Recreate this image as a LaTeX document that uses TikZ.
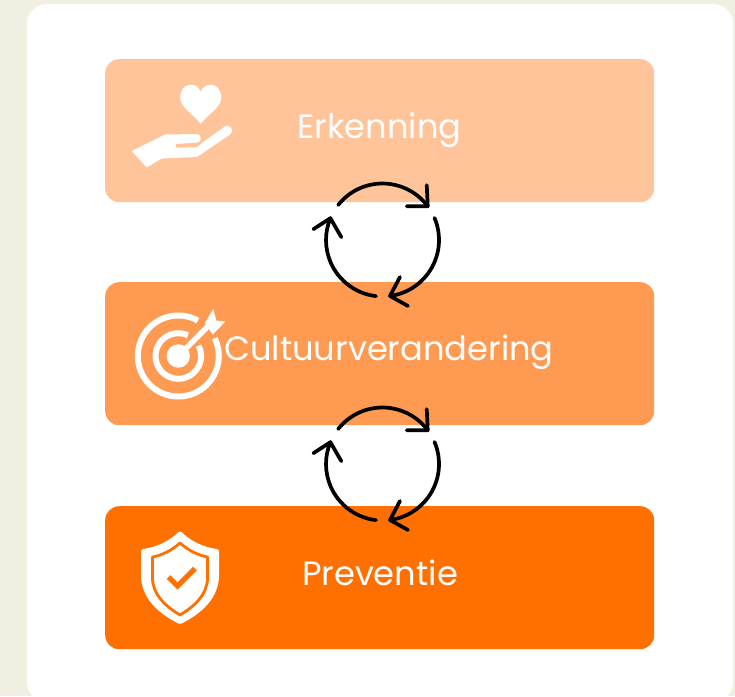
\documentclass[tikz,border=0pt]{standalone}
\usepackage{fontspec}
\setmainfont{Poppins}
\definecolor{pagebg}{HTML}{F1EFE2}
\definecolor{lightor}{HTML}{FFC499}
\definecolor{midor}{HTML}{FF9A52}
\definecolor{darkor}{HTML}{FF7000}
\tikzset{
  x=1pt,y=1pt,
  band/.style={rounded corners=14pt,minimum width=549pt,minimum height=143pt,inner sep=0pt,anchor=north west},
  bandtext/.style={text=white,font=\fontsize{33.7}{36}\selectfont,anchor=base,inner sep=0pt},
  loopline/.style={draw=black,line width=3.7pt,line cap=round,line join=round},
  pics/cyclearrows/.style={code={
    \coordinate (c) at (0,0);
    \draw[loopline] (c) ++(141.8:56.5pt) arc[start angle=141.8,end angle=36.8,radius=56.5pt] coordinate (t1);
    \draw[loopline] ([shift={(-1,21)}]t1) -- (t1) -- ([shift={(-21,0)}]t1);
    \draw[loopline] (c) ++(23:56.5pt) arc[start angle=23,end angle=-82.4,radius=56.5pt] coordinate (t2);
    \draw[loopline] ([shift={(10,19)}]t2) -- (t2) -- ([shift={(18,-10)}]t2);
    \draw[loopline] (c) ++(263.4:56.5pt) arc[start angle=263.4,end angle=157.3,radius=56.5pt] coordinate (t3);
    \draw[loopline] ([shift={(-17,-11)}]t3) -- (t3) -- ([shift={(11,-19)}]t3);
  }}
}
\begin{document}
\begin{tikzpicture}
\useasboundingbox (0,0) rectangle (735,-696);
\fill[pagebg] (0,0) rectangle (735,-696);
\begin{scope}
\clip (0,0) rectangle (735,-696);
\fill[white,rounded corners=20pt] (27,-4) rectangle (733,-702);
\end{scope}

\node[band,fill=lightor] (erk) at (105,-59) {};
\node[band,fill=midor] (cul) at (105,-282) {};
\node[band,fill=darkor] (pre) at (105,-506) {};

\node[bandtext] (erkt) at (379.5,-138) {Erkenning};
\node[bandtext] (cult) at (389,-360) {Cultuurverandering};
\node[bandtext] (pret) at (380,-585) {Preventie};

% hand and heart
\fill[white] (200.7,-123.8) .. controls (193,-114) and (180.2,-107) .. (180.2,-98)
  .. controls (180.2,-82) and (197,-81) .. (200.7,-91.7)
  .. controls (204.4,-81) and (221.2,-82) .. (221.2,-98)
  .. controls (221.2,-107) and (208.4,-114) .. (200.7,-123.8) -- cycle;
\fill[white,rounded corners=1pt] (131.7,-151) -- (165,-134.5) -- (196,-134)
  .. controls (202,-134) and (202,-142.7) .. (196,-142.7)
  -- (175.7,-144) -- (175.7,-147.7) -- (197,-147.3)
  -- (203,-142) -- (225,-126.5)
  .. controls (229,-124) and (235,-130) .. (230,-134.5)
  -- (197,-157) -- (161.7,-158.5) -- (146.7,-167.5) -- cycle;

% target
\begin{scope}[shift={(178.3,-356)}]
\draw[white,line width=6pt] (61:40.5pt) arc[start angle=61,end angle=386,radius=40.5pt];
\draw[white,line width=6pt] (65:22.8pt) arc[start angle=65,end angle=387,radius=22.8pt];
\fill[white] (0,0) circle[radius=11.7pt];
\draw[white,line width=5.5pt] (0,0) -- (30,30);
\fill[white] (26.5,33) -- (35,47) -- (38,35.5) -- (47,34.5) -- (34.5,21.5) -- cycle;
\end{scope}

% shield
\filldraw[white,line width=5pt,line join=round] (180,-534) .. controls (172,-542) and (160,-549) .. (143.5,-551.5)
  -- (143.5,-575)
  .. controls (143.5,-596) and (159,-611) .. (180,-621.5)
  .. controls (201,-611) and (216.5,-596) .. (216.5,-575)
  -- (216.5,-551.5)
  .. controls (200,-549) and (188,-542) .. (180,-534) -- cycle;
\draw[darkor,line width=2.8pt,line join=round] (180,-543) .. controls (172,-550) and (163,-555) .. (152.5,-557)
  -- (152.5,-578) .. controls (152.5,-594) and (165,-606) .. (180,-615)
  .. controls (195,-606) and (207.5,-594) .. (207.5,-578)
  -- (207.5,-557) .. controls (197,-555) and (188,-550) .. (180,-543) -- cycle;
\draw[darkor,line width=5pt] (168.5,-577) -- (177.5,-586) -- (195,-568.5);

% cycle arrows
\pic at (382.5,-240) {cyclearrows};
\pic at (382.5,-464) {cyclearrows};
\end{tikzpicture}
\end{document}
